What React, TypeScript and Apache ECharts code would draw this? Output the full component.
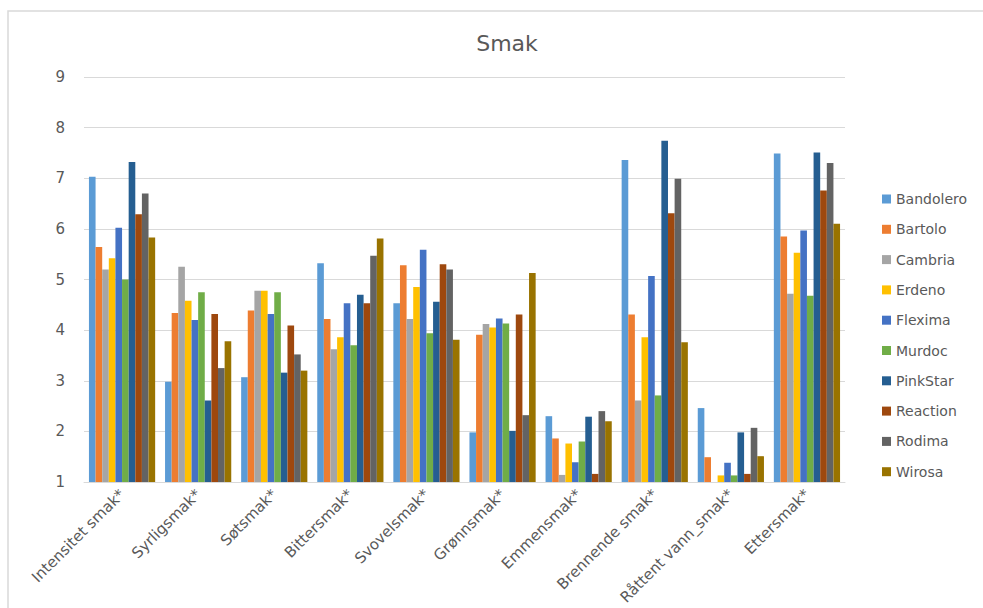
import React, { useEffect, useRef } from "react";
import * as echarts from "echarts";

const categories = [
  "Intensitet smak*",
  "Syrligsmak*",
  "Søtsmak*",
  "Bittersmak*",
  "Svovelsmak*",
  "Grønnsmak*",
  "Emmensmak*",
  "Brennende smak*",
  "Råttent vann_smak*",
  "Ettersmak*",
];

const seriesNames = [
  "Bandolero",
  "Bartolo",
  "Cambria",
  "Erdeno",
  "Flexima",
  "Murdoc",
  "PinkStar",
  "Reaction",
  "Rodima",
  "Wirosa",
];

const bandolero = [7.03, 2.98, 3.07, 5.32, 4.53, 1.98, 2.3, 7.36, 2.46, 7.49];
const bartolo = [5.64, 4.34, 4.39, 4.22, 5.28, 3.91, 1.86, 4.31, 1.49, 5.85];
const cambria = [5.2, 5.25, 4.78, 3.62, 4.22, 4.12, 1.14, 2.61, 1.0, 4.72];
const erdeno = [5.42, 4.58, 4.78, 3.86, 4.85, 4.05, 1.76, 3.86, 1.13, 5.53];
const flexima = [6.02, 4.2, 4.32, 4.53, 5.59, 4.23, 1.39, 5.07, 1.38, 5.97];
const murdoc = [5.0, 4.75, 4.75, 3.7, 3.94, 4.13, 1.8, 2.71, 1.13, 4.68];
const pinkStar = [7.32, 2.61, 3.16, 4.7, 4.56, 2.01, 2.29, 7.74, 1.98, 7.51];
const reaction = [6.29, 4.32, 4.09, 4.53, 5.3, 4.31, 1.16, 6.31, 1.16, 6.76];
const rodima = [6.7, 3.25, 3.52, 5.47, 5.2, 2.32, 2.4, 6.99, 2.07, 7.3];
const wirosa = [5.83, 3.78, 3.2, 5.81, 3.81, 5.13, 2.2, 3.76, 1.51, 6.1];

const seriesValues = [
  bandolero,
  bartolo,
  cambria,
  erdeno,
  flexima,
  murdoc,
  pinkStar,
  reaction,
  rodima,
  wirosa,
];

const colors = [
  "#5B9BD5",
  "#ED7D31",
  "#A5A5A5",
  "#FFC000",
  "#4472C4",
  "#70AD47",
  "#255E91",
  "#9E480E",
  "#636363",
  "#997300",
];

const yTicks = [1, 2, 3, 4, 5, 6, 7, 8, 9];

const FONT = "'DejaVu Sans', 'Noto Sans', sans-serif";
const TEXT = "#595959";

export default function App() {
  const ref = useRef<HTMLDivElement>(null);

  useEffect(() => {
    if (!ref.current) return;
    const chart = echarts.init(ref.current, undefined, { renderer: "svg" });
    chart.setOption({
      animation: false,
      backgroundColor: "#ffffff",
      color: colors,
      title: {
        text: "Smak",
        left: 502,
        textAlign: "center",
        top: 27,
        textStyle: {
          fontFamily: FONT,
          fontSize: 22,
          fontWeight: "normal",
          color: TEXT,
        },
      },
      graphic: [
        {
          type: "rect",
          shape: { x: 8, y: 11, width: 1000, height: 700 },
          style: { fill: "none", stroke: "#d9d9d9", lineWidth: 1.5 },
          silent: true,
        },
      ],
      legend: {
        orient: "vertical",
        left: 877,
        top: 185,
        itemWidth: 9,
        itemHeight: 9,
        itemGap: 12.3,
        icon: "rect",
        data: seriesNames,
        textStyle: {
          fontFamily: FONT,
          fontSize: 14,
          color: TEXT,
          lineHeight: 18,
        },
      },
      grid: {
        left: 84,
        right: 138,
        top: 77,
        bottom: 126,
        containLabel: false,
      },
      xAxis: {
        type: "category",
        data: categories,
        axisLine: { lineStyle: { color: "#d9d9d9", width: 1 } },
        axisTick: { show: false },
        axisLabel: {
          rotate: 45,
          interval: 0,
          margin: 10,
          fontFamily: FONT,
          fontSize: 15,
          color: TEXT,
        },
      },
      yAxis: {
        type: "value",
        min: yTicks[0],
        max: yTicks[yTicks.length - 1],
        interval: 1,
        axisLine: { show: false },
        axisTick: { show: false },
        splitLine: { lineStyle: { color: "#d9d9d9", width: 1 } },
        axisLabel: {
          margin: 19,
          fontFamily: FONT,
          fontSize: 15,
          color: TEXT,
        },
      },
      series: seriesNames.map((name, i) => ({
        name,
        type: "bar",
        data: seriesValues[i],
        barGap: "0%",
        barCategoryGap: "13%",
        itemStyle: { color: colors[i] },
      })),
    });
    return () => chart.dispose();
  }, []);

  return (
    <div
      ref={ref}
      style={{ position: "fixed", left: 0, top: 0, width: 983, height: 608 }}
    />
  );
}
